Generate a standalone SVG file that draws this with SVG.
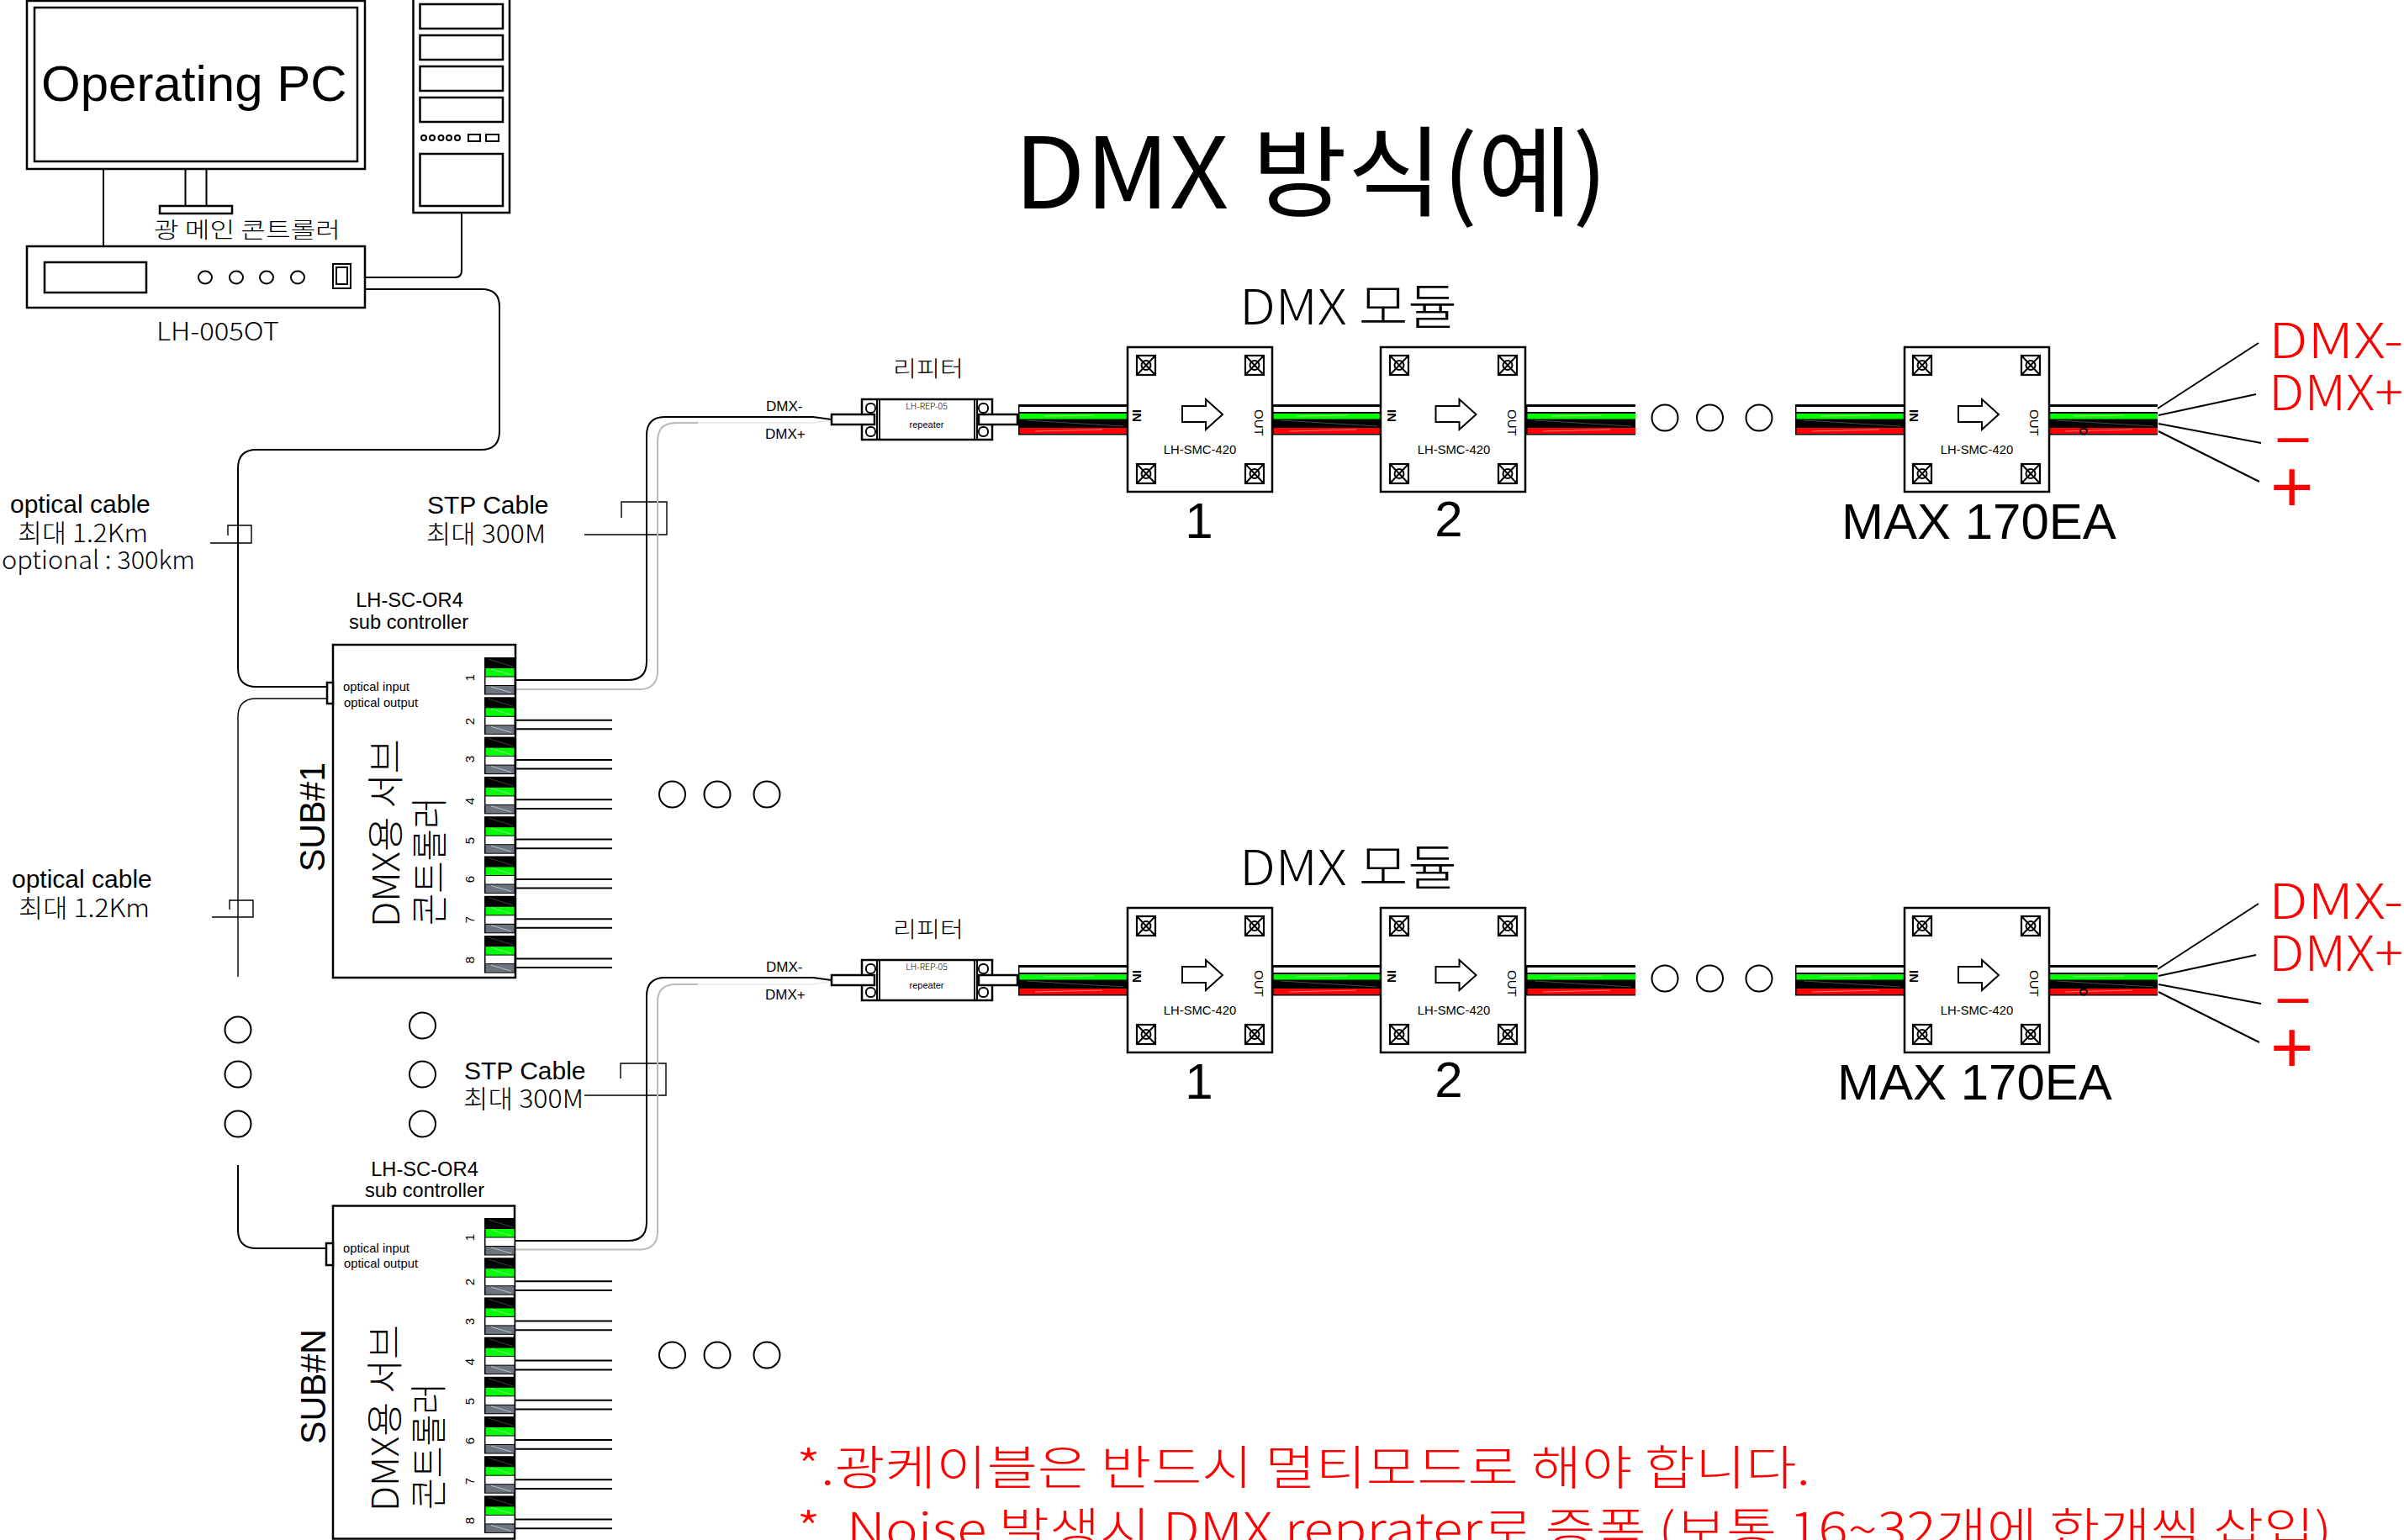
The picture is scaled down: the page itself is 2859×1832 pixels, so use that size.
<svg xmlns="http://www.w3.org/2000/svg" width="2859" height="1832" viewBox="0 0 2859 1832">
<style>
.s{fill:#fff;stroke:#000;stroke-width:2.5}
.n{fill:none;stroke:#000;stroke-width:2}
.t{fill:none;stroke:#000;stroke-width:1.4}
.g{fill:none;stroke:#bbb;stroke-width:2}
text{fill:#000;font-family:"Liberation Sans",Arial,sans-serif}
.k{font-family:"Noto Sans CJK KR","Noto Sans",sans-serif;font-weight:300}
.ti{font-family:"Noto Sans CJK KR","Noto Sans",sans-serif;font-weight:400}
.r{fill:#f00}
</style>
<defs>
<g id="wire">
<rect x="0" y="481" width="130" height="36.5" fill="#000"/>
<rect x="1.5" y="484" width="128.5" height="6" fill="#fff"/>
<rect x="1.5" y="492" width="128.5" height="6.5" fill="#0f0"/>
<rect x="1.5" y="509" width="128.5" height="7" fill="#f00"/>
<path d="M10 500L125 507" stroke="#777" stroke-width=".6" fill="none"/>
<path d="M20 513L100 511M30 495L90 494" stroke="#fcc" stroke-width=".6" fill="none"/>
</g>
<g id="port">
<rect width="37" height="44.5" fill="#000"/>
<rect x="1.5" y="13" width="34" height="9.5" fill="#0f0"/>
<rect x="1.5" y="23.5" width="34" height="9.5" fill="#fff"/>
<rect x="1.5" y="34" width="34" height="9.5" fill="#6d7480"/>
<path d="M5 2L34 11" stroke="#666" stroke-width=".6"/>
<path d="M8 14L32 21M8 35L32 42" stroke="#dfe" stroke-width=".6"/>
</g>
<g id="screw" class="n">
<rect width="22" height="23" stroke-width="2.2" fill="#fff"/>
<path d="M0 0L22 23M22 0L0 23"/>
<circle cx="11" cy="11.5" r="5.5"/>
</g>
<g id="mod">
<rect class="s" x="0" y="0" width="172" height="172"/>
</g>
<path id="arrow" fill="#fff" stroke="#000" stroke-width="2" d="M0 8H28V0L48 18L28 36V27H0Z"/>
<g id="rep">
<rect class="s" x="1025" y="475" width="155" height="48"/>
<path class="n" d="M1046 475V523M1043 475V523M1159 475V523M1162 475V523"/>
<rect class="n" x="1030" y="480" width="11" height="11" rx="5"/>
<rect class="n" x="1030" y="508" width="11" height="11" rx="5"/>
<rect class="n" x="1164" y="480" width="11" height="11" rx="5"/>
<rect class="n" x="1164" y="508" width="11" height="11" rx="5"/>
<rect class="s" x="989" y="493" width="51" height="12"/>
<rect class="s" x="1164" y="493" width="46" height="12"/>
</g>
<g id="sub">
<rect class="s" x="396" y="0" width="217" height="396"/>
</g>
</defs>
<rect width="2859" height="1832" fill="#fff"/>

<g id="connectors">
<path class="n" d="M123 201V293"/>
<path class="n" d="M549 253V322Q549 330 541 330H434"/>
<path class="n" d="M434 344H573Q594 344 594 365V513Q594 535 572 535H305Q283 535 283 557V795Q283 817 305 817H389"/>
<path class="t" d="M389 831H305Q283 831 283 853V1162"/>
<path class="n" d="M283 1386V1463Q283 1485 305 1485H389"/>
<path class="t" d="M250 646H299V625H271V637"/>
<path class="t" d="M252 1091H301V1071H273V1082"/>
<path class="t" d="M695 636H793V597H739V616"/>
<path class="t" d="M695 1303H792V1265H738V1283"/>
<path class="g" d="M613 820H760Q782 820 782 798V525Q782 503 804 503H830"/>
<path d="M830 503H967L989 500" fill="none" stroke="#e8e8e8" stroke-width="1.5"/>
<path class="n" d="M613 809H747Q769 809 769 787V518Q769 496 791 496H967L989 499"/>
<path class="g" d="M612 1486.5H760Q782 1486.5 782 1465V1192Q782 1171 804 1171H830"/>
<path d="M830 1171H967L989 1167" fill="none" stroke="#e8e8e8" stroke-width="1.5"/>
<path class="n" d="M612 1476H747Q769 1476 769 1454V1185Q769 1163 791 1163H967L989 1166"/>
<path class="n" d="M613 856.7H728M613 867.3H728M613 904H728M613 914.6H728M613 951.3H728M613 961.9H728M613 998.6H728M613 1009.2H728M613 1045.9H728M613 1056.5H728M613 1093.2H728M613 1103.8H728M613 1140.5H728M613 1151.1H728"/>
<path class="n" d="M612 1524.2H728M612 1535H728M612 1571.4H728M612 1582.2H728M612 1618.6H728M612 1629.4H728M612 1665.8H728M612 1676.6H728M612 1713H728M612 1723.8H728M612 1760.2H728M612 1771H728M612 1807.4H728M612 1818.2H728"/>
<use href="#wire" x="1211"/><use href="#wire" x="1513"/><use href="#wire" x="1815"/><use href="#wire" x="2135"/><use href="#wire" x="2436"/>
<use href="#wire" x="1211" y="667"/><use href="#wire" x="1513" y="667"/><use href="#wire" x="1815" y="667"/><use href="#wire" x="2135" y="667"/><use href="#wire" x="2436" y="667"/>
<path class="n" d="M2566 486L2686 408M2567 494L2683 469M2567 504L2689 527M2567 513L2687 573"/>
<path class="n" d="M2566 1153L2686 1075M2567 1161L2683 1136M2567 1171L2689 1194M2567 1180L2687 1240"/>
</g>

<g id="monitor">
<rect class="s" x="32" y="1" width="402" height="200"/>
<rect class="s" x="41" y="9" width="384" height="183"/>
<path class="n" d="M220.5 201V245" stroke-width="2.5"/><path class="n" d="M245.5 201V245"/>
<rect class="s" x="190" y="245" width="86" height="9"/>
<text x="49" y="120" font-size="60">Operating PC</text>
</g>
<g id="tower">
<rect class="s" x="491.5" y="-3" width="114.5" height="256"/>
<rect class="s" x="499.5" y="5" width="98.5" height="29"/>
<rect class="s" x="499.5" y="42" width="98.5" height="29"/>
<rect class="s" x="499.5" y="79" width="98.5" height="29"/>
<rect class="s" x="499.5" y="116" width="98.5" height="29"/>
<g class="n"><circle cx="504" cy="164" r="3"/><circle cx="514" cy="164" r="3"/><circle cx="524.5" cy="164" r="3"/><circle cx="534" cy="164" r="3"/><circle cx="544" cy="164" r="3"/></g>
<rect class="n" x="557" y="160" width="14" height="8"/>
<rect class="n" x="578" y="160" width="15" height="8"/>
<rect class="s" x="499.5" y="183" width="98.5" height="62"/>
</g>
<g id="main-controller">
<text class="k" x="183" y="283" font-size="26" textLength="222" lengthAdjust="spacingAndGlyphs">광 메인 콘트롤러</text>
<rect class="s" x="32" y="293" width="402" height="73"/>
<rect class="s" x="53" y="312" width="121" height="36"/>
<g class="n"><ellipse cx="244" cy="330" rx="8" ry="7.5"/><ellipse cx="281" cy="330" rx="8" ry="7.5"/><ellipse cx="317" cy="330" rx="8" ry="7.5"/><ellipse cx="354" cy="330" rx="8" ry="7.5"/></g>
<rect class="n" x="396" y="314" width="21" height="29"/>
<rect class="n" x="400" y="318" width="13" height="20"/>
<text class="k" x="186" y="405" font-size="30" textLength="146" lengthAdjust="spacingAndGlyphs">LH-005OT</text>
</g>

<g id="title">
<text class="ti" x="1206" y="248" font-size="117" textLength="706" lengthAdjust="spacingAndGlyphs">DMX 방식(예)</text>
</g>

<g id="labels-left">
<text x="12" y="610" font-size="30">optical cable</text>
<text class="k" x="21" y="645" font-size="30" textLength="155" lengthAdjust="spacingAndGlyphs">최대 1.2Km</text>
<text class="k" x="2" y="677" font-size="30" textLength="230" lengthAdjust="spacingAndGlyphs">optional : 300km</text>
<text x="14" y="1056" font-size="30">optical cable</text>
<text class="k" x="22" y="1091" font-size="30" textLength="156" lengthAdjust="spacingAndGlyphs">최대 1.2Km</text>
<text x="508" y="611" font-size="30">STP Cable</text>
<text class="k" x="507" y="646" font-size="30" textLength="142" lengthAdjust="spacingAndGlyphs">최대 300M</text>
<text x="552" y="1284" font-size="30">STP Cable</text>
<text class="k" x="551" y="1318" font-size="30" textLength="143" lengthAdjust="spacingAndGlyphs">최대 300M</text>
</g>

<g id="sub1">
<text x="487" y="722" font-size="23.7" text-anchor="middle">LH-SC-OR4</text>
<text x="486" y="748" font-size="23.7" text-anchor="middle">sub controller</text>
<use href="#sub" y="767"/>
<rect class="s" x="389" y="812" width="7" height="25"/>
<text x="408" y="822" font-size="14.8">optical input</text>
<text x="409" y="841" font-size="14.8">optical output</text>
<text transform="translate(386,1037) rotate(-90)" font-size="43" textLength="130" lengthAdjust="spacingAndGlyphs">SUB#1</text>
<text class="k" transform="translate(475,1103) rotate(-90)" font-size="44" textLength="224" lengthAdjust="spacingAndGlyphs">DMX용 서브</text>
<text class="k" transform="translate(527,1101) rotate(-90)" font-size="44" textLength="153" lengthAdjust="spacingAndGlyphs">콘트롤러</text>
<use href="#port" x="576" y="782"/><use href="#port" x="576" y="829.3"/><use href="#port" x="576" y="876.6"/><use href="#port" x="576" y="923.9"/><use href="#port" x="576" y="971.2"/><use href="#port" x="576" y="1018.5"/><use href="#port" x="576" y="1065.8"/><use href="#port" x="576" y="1113.1"/>
<g font-size="15" text-anchor="middle">
<text transform="translate(564,806) rotate(-90)">1</text>
<text transform="translate(564,858) rotate(-90)">2</text>
<text transform="translate(564,903) rotate(-90)">3</text>
<text transform="translate(564,953) rotate(-90)">4</text>
<text transform="translate(564,1000) rotate(-90)">5</text>
<text transform="translate(564,1046) rotate(-90)">6</text>
<text transform="translate(564,1094) rotate(-90)">7</text>
<text transform="translate(564,1142) rotate(-90)">8</text>
</g>
</g>

<g id="subN">
<text x="505" y="1399" font-size="23.7" text-anchor="middle">LH-SC-OR4</text>
<text x="505" y="1424" font-size="23.7" text-anchor="middle">sub controller</text>
<rect class="s" x="396" y="1434.5" width="216" height="396"/>
<rect class="s" x="388" y="1479" width="8" height="26"/>
<text x="408" y="1490" font-size="14.8">optical input</text>
<text x="409" y="1508" font-size="14.8">optical output</text>
<text transform="translate(387,1718) rotate(-90)" font-size="43" textLength="137" lengthAdjust="spacingAndGlyphs">SUB#N</text>
<text class="k" transform="translate(474,1798) rotate(-90)" font-size="44" textLength="222" lengthAdjust="spacingAndGlyphs">DMX용 서브</text>
<text class="k" transform="translate(526,1796) rotate(-90)" font-size="44" textLength="151" lengthAdjust="spacingAndGlyphs">콘트롤러</text>
<use href="#port" x="576" y="1449"/><use href="#port" x="576" y="1496.2"/><use href="#port" x="576" y="1543.4"/><use href="#port" x="576" y="1590.6"/><use href="#port" x="576" y="1637.8"/><use href="#port" x="576" y="1685"/><use href="#port" x="576" y="1732.2"/><use href="#port" x="576" y="1779.4"/>
<g font-size="15" text-anchor="middle">
<text transform="translate(564,1472) rotate(-90)">1</text>
<text transform="translate(564,1525) rotate(-90)">2</text>
<text transform="translate(564,1572) rotate(-90)">3</text>
<text transform="translate(564,1620) rotate(-90)">4</text>
<text transform="translate(564,1667) rotate(-90)">5</text>
<text transform="translate(564,1714) rotate(-90)">6</text>
<text transform="translate(564,1762) rotate(-90)">7</text>
<text transform="translate(564,1809) rotate(-90)">8</text>
</g>
</g>

<g id="dots" class="n">
<circle cx="283" cy="1225" r="15.5"/><circle cx="283" cy="1278" r="15.5"/><circle cx="283" cy="1337" r="15.5"/>
<circle cx="502.5" cy="1220" r="15.5"/><circle cx="502.5" cy="1278" r="15.5"/><circle cx="502.5" cy="1337" r="15.5"/>
<circle cx="799.5" cy="945" r="15.5"/><circle cx="853" cy="945" r="15.5"/><circle cx="912" cy="945" r="15.5"/>
<circle cx="799.5" cy="1612" r="15.5"/><circle cx="853" cy="1612" r="15.5"/><circle cx="912" cy="1612" r="15.5"/>
<circle cx="1980" cy="497" r="15.5"/><circle cx="2033.5" cy="497" r="15.5"/><circle cx="2092" cy="497" r="15.5"/>
<circle cx="1980" cy="1164" r="15.5"/><circle cx="2033.5" cy="1164" r="15.5"/><circle cx="2092" cy="1164" r="15.5"/>
</g>

<g id="row1-heading">
<text class="k" x="1474" y="386" font-size="58" textLength="259" lengthAdjust="spacingAndGlyphs">DMX 모듈</text>
<text class="k" x="1062" y="448" font-size="26" textLength="84" lengthAdjust="spacingAndGlyphs">리피터</text>
<text x="911" y="489" font-size="17">DMX-</text>
<text x="910" y="522" font-size="17">DMX+</text>
</g>
<g id="repeater1">
<use href="#rep"/>
<text class="k" x="1102" y="487" font-size="10.5" text-anchor="middle">LH-REP-05</text>
<text x="1102" y="509" font-size="11" fill="#333" text-anchor="middle">repeater</text>
</g>
<g id="module1-1">
<use href="#mod" x="1341" y="413"/>
<use href="#screw" x="1352" y="423"/><use href="#screw" x="1481" y="423"/><use href="#screw" x="1352" y="552"/><use href="#screw" x="1481" y="552"/>
<use href="#arrow" x="1406" y="475"/>
<text transform="translate(1347,487) rotate(90)" font-size="15" font-weight="bold">IN</text>
<text transform="translate(1492,487) rotate(90)" font-size="15">OUT</text>
<text x="1427" y="540" font-size="14.8" text-anchor="middle">LH-SMC-420</text>
<text x="1426" y="640" font-size="60" text-anchor="middle">1</text>
</g>
<g id="module1-2">
<use href="#mod" x="1642" y="413"/>
<use href="#screw" x="1653" y="423"/><use href="#screw" x="1782" y="423"/><use href="#screw" x="1653" y="552"/><use href="#screw" x="1782" y="552"/>
<use href="#arrow" x="1707.5" y="475"/>
<text transform="translate(1650,487) rotate(90)" font-size="15" font-weight="bold">IN</text>
<text transform="translate(1793,487) rotate(90)" font-size="15">OUT</text>
<text x="1729" y="540" font-size="14.8" text-anchor="middle">LH-SMC-420</text>
<text x="1723" y="638" font-size="60" text-anchor="middle">2</text>
</g>
<g id="module1-3">
<use href="#mod" x="2265" y="413"/>
<use href="#screw" x="2275" y="423"/><use href="#screw" x="2404" y="423"/><use href="#screw" x="2275" y="552"/><use href="#screw" x="2404" y="552"/>
<use href="#arrow" x="2329" y="475"/>
<text transform="translate(2271,487) rotate(90)" font-size="15" font-weight="bold">IN</text>
<text transform="translate(2414,487) rotate(90)" font-size="15">OUT</text>
<text x="2351" y="540" font-size="14.8" text-anchor="middle">LH-SMC-420</text>
<text x="2190" y="641" font-size="60">MAX 170EA</text>
<ellipse class="n" cx="2478" cy="513" rx="4" ry="3.5"/>
</g>
<g id="row1-legend">
<text class="k r" x="2698" y="426" font-size="58" textLength="160" lengthAdjust="spacingAndGlyphs">DMX-</text>
<text class="k r" x="2698" y="488" font-size="58" textLength="160" lengthAdjust="spacingAndGlyphs">DMX+</text>
<text class="r" x="2702" y="539" font-size="60" textLength="50" lengthAdjust="spacingAndGlyphs">-</text>
<text class="r" x="2700" y="609" font-size="88">+</text>
</g>

<g id="row2-heading">
<text class="k" x="1474" y="1053" font-size="58" textLength="259" lengthAdjust="spacingAndGlyphs">DMX 모듈</text>
<text class="k" x="1062" y="1115" font-size="26" textLength="84" lengthAdjust="spacingAndGlyphs">리피터</text>
<text x="911" y="1156" font-size="17">DMX-</text>
<text x="910" y="1189" font-size="17">DMX+</text>
</g>
<g id="repeater2">
<use href="#rep" y="667"/>
<text class="k" x="1102" y="1154" font-size="10.5" text-anchor="middle">LH-REP-05</text>
<text x="1102" y="1176" font-size="11" fill="#333" text-anchor="middle">repeater</text>
</g>
<g id="module2-1">
<use href="#mod" x="1341" y="1080"/>
<use href="#screw" x="1352" y="1090"/><use href="#screw" x="1481" y="1090"/><use href="#screw" x="1352" y="1219"/><use href="#screw" x="1481" y="1219"/>
<use href="#arrow" x="1406" y="1142"/>
<text transform="translate(1347,1154) rotate(90)" font-size="15" font-weight="bold">IN</text>
<text transform="translate(1492,1154) rotate(90)" font-size="15">OUT</text>
<text x="1427" y="1207" font-size="14.8" text-anchor="middle">LH-SMC-420</text>
<text x="1426" y="1307" font-size="60" text-anchor="middle">1</text>
</g>
<g id="module2-2">
<use href="#mod" x="1642" y="1080"/>
<use href="#screw" x="1653" y="1090"/><use href="#screw" x="1782" y="1090"/><use href="#screw" x="1653" y="1219"/><use href="#screw" x="1782" y="1219"/>
<use href="#arrow" x="1707.5" y="1142"/>
<text transform="translate(1650,1154) rotate(90)" font-size="15" font-weight="bold">IN</text>
<text transform="translate(1793,1154) rotate(90)" font-size="15">OUT</text>
<text x="1729" y="1207" font-size="14.8" text-anchor="middle">LH-SMC-420</text>
<text x="1723" y="1305" font-size="60" text-anchor="middle">2</text>
</g>
<g id="module2-3">
<use href="#mod" x="2265" y="1080"/>
<use href="#screw" x="2275" y="1090"/><use href="#screw" x="2404" y="1090"/><use href="#screw" x="2275" y="1219"/><use href="#screw" x="2404" y="1219"/>
<use href="#arrow" x="2329" y="1142"/>
<text transform="translate(2271,1154) rotate(90)" font-size="15" font-weight="bold">IN</text>
<text transform="translate(2414,1154) rotate(90)" font-size="15">OUT</text>
<text x="2351" y="1207" font-size="14.8" text-anchor="middle">LH-SMC-420</text>
<text x="2185" y="1308" font-size="60">MAX 170EA</text>
<ellipse class="n" cx="2478" cy="1180" rx="4" ry="3.5"/>
</g>
<g id="row2-legend">
<text class="k r" x="2698" y="1093" font-size="58" textLength="160" lengthAdjust="spacingAndGlyphs">DMX-</text>
<text class="k r" x="2698" y="1155" font-size="58" textLength="160" lengthAdjust="spacingAndGlyphs">DMX+</text>
<text class="r" x="2702" y="1206" font-size="60" textLength="50" lengthAdjust="spacingAndGlyphs">-</text>
<text class="r" x="2700" y="1276" font-size="88">+</text>
</g>

<g id="notes">
<text class="k r" x="947" y="1766" font-size="56" textLength="1206" lengthAdjust="spacingAndGlyphs">*.광케이블은 반드시 멀티모드로 해야 합니다.</text>
<text class="k r" x="947" y="1840" font-size="56" textLength="1826" lengthAdjust="spacingAndGlyphs">*. Noise 발생시 DMX reprater로 증폭 (보통 16~32개에 한개씩 삽입)</text>
</g>
</svg>
